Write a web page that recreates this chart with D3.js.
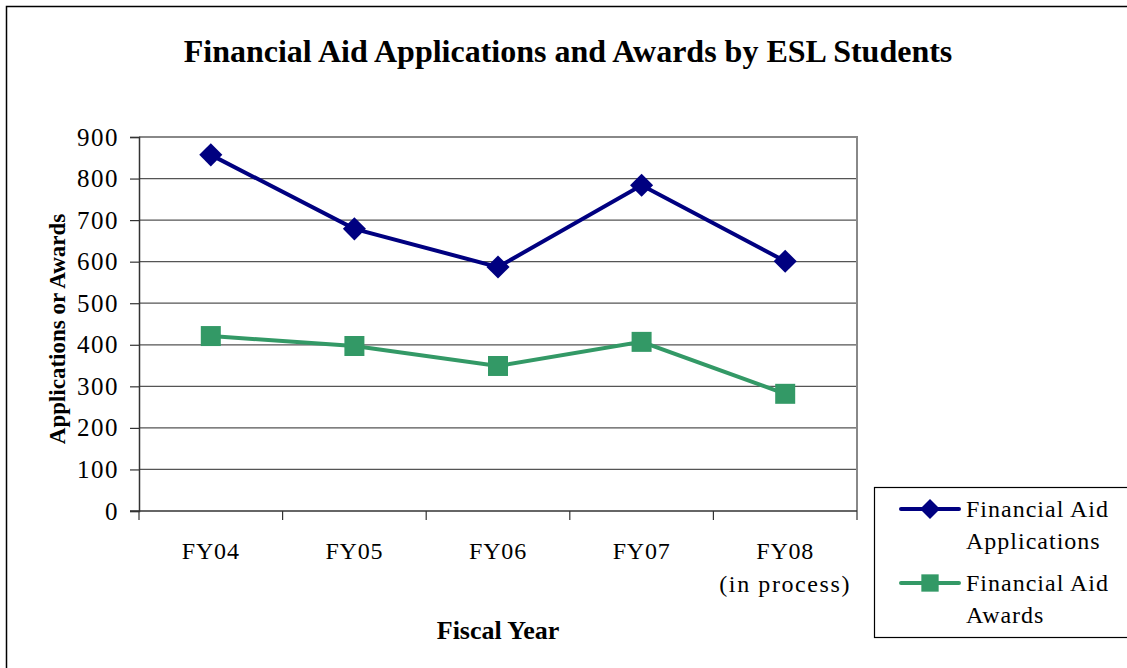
<!DOCTYPE html>
<html>
<head>
<meta charset="utf-8">
<script src="https://cdn.jsdelivr.net/npm/d3@7"></script>
<style>
  body { margin: 0; background: #fff; }
  svg { display: block; font-family: "Liberation Serif", "Times New Roman", serif; }
</style>
</head>
<body>
<div class="visual-data"></div>
<script>
// chart data
const years = ["FY04", "FY05", "FY06", "FY07", "FY08"];
const yearSub = ["", "", "", "", "(in process)"];
const applications = [857, 679, 587, 784, 601];
const awards = [421, 397, 349, 407, 282];
const yTicks = [0, 100, 200, 300, 400, 500, 600, 700, 800, 900];

const width = 1127;
const height = 668;
const plot = { left: 139, right: 857, top: 137, bottom: 511 };

var svg = d3.select(".visual-data")
            .append("svg")
            .attr("width", width)
            .attr("height", height);

// outer frame
svg.append("rect")
   .attr("x", 6.5).attr("y", 6.5)
   .attr("width", width + 20).attr("height", height + 20)
   .attr("fill", "none").attr("stroke", "#000").attr("stroke-width", 1.5);

// title
svg.append("text")
   .attr("x", 568).attr("y", 62)
   .attr("text-anchor", "middle")
   .attr("font-size", 32).attr("font-weight", "bold")
   .text("Financial Aid Applications and Awards by ESL Students");

// scales
const xScale = d3.scaleBand()
                 .domain(years)
                 .range([plot.left, plot.right]);
const yScale = d3.scaleLinear()
                 .domain([0, 900])
                 .range([plot.bottom, plot.top]);

// gridlines
svg.append("g")
   .selectAll("line")
   .data(yTicks.filter(d => d > 0 && d < 900))
   .join("line")
   .attr("x1", plot.left).attr("x2", plot.right)
   .attr("y1", d => yScale(d)).attr("y2", d => yScale(d))
   .attr("stroke", "#555").attr("stroke-width", 1.2);

// plot border top / right
svg.append("path")
   .attr("d", `M${plot.left},${plot.top}H${plot.right}V${plot.bottom}`)
   .attr("fill", "none").attr("stroke", "#888").attr("stroke-width", 2);

// y axis
const yAxis = d3.axisLeft(yScale).tickValues(yTicks).tickSize(9).tickPadding(11).tickFormat(d3.format("d"));
const gy = svg.append("g")
              .attr("transform", "translate(" + plot.left + ",0)")
              .call(yAxis);
gy.select(".domain").attr("stroke", "#333").attr("stroke-width", 1.5);
gy.selectAll(".tick line").attr("stroke", "#333").attr("stroke-width", 1.2);
gy.selectAll(".tick text")
  .attr("font-family", "Liberation Serif, serif")
  .attr("font-size", 25).attr("letter-spacing", 1.5).attr("fill", "#000");

// x axis (ticks at category boundaries)
svg.append("line")
   .attr("x1", plot.left - 9).attr("x2", plot.right)
   .attr("y1", plot.bottom).attr("y2", plot.bottom)
   .attr("stroke", "#333").attr("stroke-width", 1.5);
svg.append("g")
   .selectAll("line")
   .data(years.concat(["end"]))
   .join("line")
   .attr("x1", (d, i) => i < years.length ? xScale(d) : plot.right)
   .attr("x2", (d, i) => i < years.length ? xScale(d) : plot.right)
   .attr("y1", plot.bottom).attr("y2", plot.bottom + 9)
   .attr("stroke", "#333").attr("stroke-width", 1.2);

const cx = d => xScale(d) + xScale.bandwidth() / 2;

svg.append("g")
   .selectAll("text")
   .data(years)
   .join("text")
   .attr("x", cx).attr("y", 559)
   .attr("text-anchor", "middle")
   .attr("font-size", 24)
   .attr("letter-spacing", 0.8)
   .text(d => d);
svg.append("g")
   .selectAll("text")
   .data(years)
   .join("text")
   .attr("x", cx).attr("y", 592)
   .attr("text-anchor", "middle")
   .attr("font-size", 24)
   .attr("letter-spacing", 1.6)
   .text((d, i) => yearSub[i]);

// axis titles
svg.append("text")
   .attr("x", (plot.left + plot.right) / 2).attr("y", 639)
   .attr("text-anchor", "middle")
   .attr("font-size", 26).attr("font-weight", "bold")
   .text("Fiscal Year");
svg.append("text")
   .attr("transform", "translate(65," + ((plot.top + plot.bottom) / 2 + 5) + ") rotate(-90)")
   .attr("text-anchor", "middle")
   .attr("font-size", 23).attr("font-weight", "bold")
   .text("Applications or Awards");

// series
const series = [
  { name: ["Financial Aid", "Applications"], values: applications, color: "#000080", symbol: d3.symbolDiamond2, size: 340 },
  { name: ["Financial Aid", "Awards"], values: awards, color: "#339966", symbol: d3.symbolSquare, size: 400 }
];

const line = d3.line()
               .x((d, i) => cx(years[i]))
               .y(d => yScale(d));

series.forEach(s => {
  svg.append("path")
     .datum(s.values)
     .attr("d", line)
     .attr("fill", "none")
     .attr("stroke", s.color)
     .attr("stroke-width", 4);
  svg.append("g")
     .selectAll("path")
     .data(s.values)
     .join("path")
     .attr("transform", (d, i) => "translate(" + cx(years[i]) + "," + yScale(d) + ")")
     .attr("d", d3.symbol(s.symbol, s.size))
     .attr("fill", s.color);
});

// legend
svg.append("rect")
   .attr("x", 874.5).attr("y", 487.5)
   .attr("width", 300).attr("height", 150)
   .attr("fill", "#fff").attr("stroke", "#000").attr("stroke-width", 1.2);

const legendY = [509, 583];
series.forEach((s, k) => {
  const g = svg.append("g").attr("transform", "translate(0," + legendY[k] + ")");
  g.append("line")
   .attr("x1", 901).attr("x2", 959)
   .attr("stroke", s.color).attr("stroke-width", 4)
   .attr("stroke-linecap", "round");
  g.append("path")
   .attr("transform", "translate(930,0)")
   .attr("d", d3.symbol(s.symbol, s.size * 0.75))
   .attr("fill", s.color);
  g.selectAll("text")
   .data(s.name)
   .join("text")
   .attr("x", 966)
   .attr("y", (d, i) => 8 + i * 32)
   .attr("font-size", 24)
   .attr("letter-spacing", 1)
   .text(d => d);
});
</script>
</body>
</html>
